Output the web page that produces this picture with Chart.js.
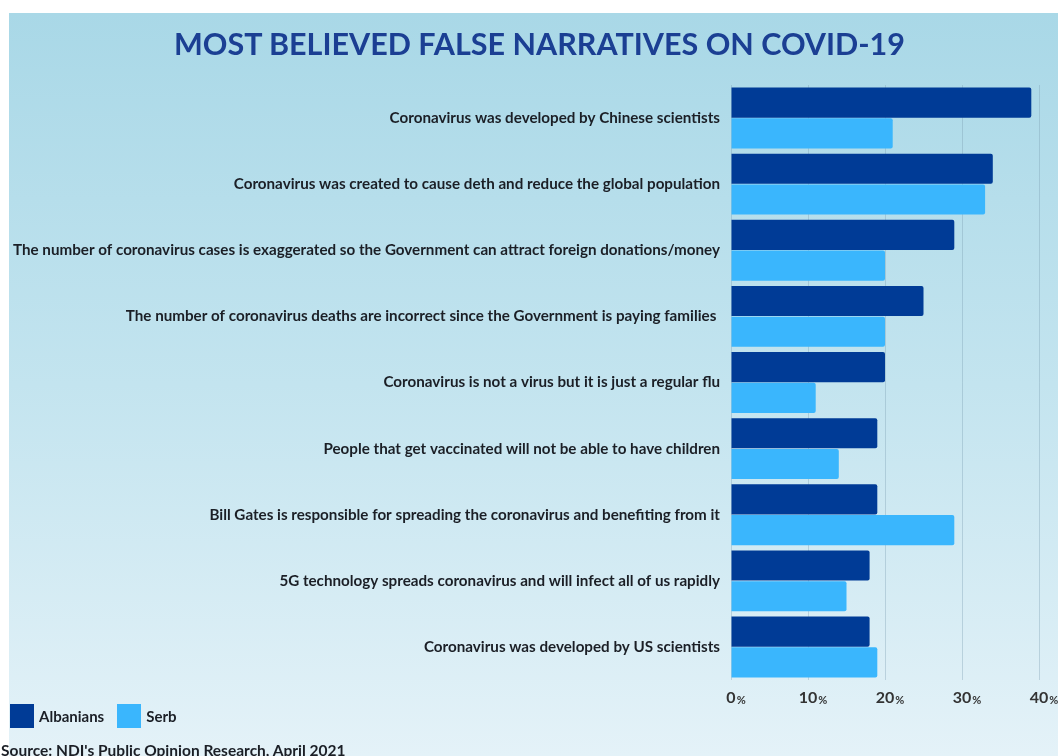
<!DOCTYPE html>
<html>
<head>
<meta charset="utf-8">
<script src="https://cdn.jsdelivr.net/npm/chart.js@4.4.1/dist/chart.umd.min.js"></script>
<style>
  html, body { margin: 0; padding: 0; background: #ffffff; }
  #wrap { position: relative; width: 1058px; height: 756px; overflow: hidden; }
  #title { position: absolute; left: 0; top: 25px; width: 1079px; text-align: center;
           font: bold 30.5px Lato, sans-serif; color: #1b3f93; white-space: nowrap; }
  #legend { position: absolute; left: 10px; top: 704px; display: flex; align-items: center;
            font: bold 15px Lato, sans-serif; color: #1b1f26; }
  #legend .item { display: flex; align-items: center; margin-right: 13px; }
  #legend .box { width: 24px; height: 24px; margin-right: 5px; }
  #source { position: absolute; left: 1px; top: 741px; font: bold 15.5px Lato, sans-serif; color: #1b1f26; white-space: nowrap; }
</style>
</head>
<body>
<div id="wrap">
  <canvas id="chart" width="1058" height="756"></canvas>
  <div id="title">MOST BELIEVED FALSE NARRATIVES ON COVID-19</div>
  <div id="legend"></div>
  <div id="source">Source: NDI's Public Opinion Research, April 2021</div>
</div>
<script>
"use strict";

const categorias = [
  "Coronavirus was developed by Chinese scientists",
  "Coronavirus was created to cause deth and reduce the global population",
  "The number of coronavirus cases is exaggerated so the Government can attract foreign donations/money",
  "The number of coronavirus deaths are incorrect since the Government is paying families ",
  "Coronavirus is not a virus but it is just a regular flu",
  "People that get vaccinated will not be able to have children",
  "Bill Gates is responsible for spreading the coronavirus and benefiting from it",
  "5G technology spreads coronavirus and will infect all of us rapidly",
  "Coronavirus was developed by US scientists",
];
const albanians = [39, 34, 29, 25, 20, 19, 19, 18, 18];
const serb = [21, 33, 20, 20, 11, 14, 29, 15, 19];
const ticksX = [0, 10, 20, 30, 40];

const colorAlb = "#003b96";
const colorSerb = "#3ab6fd";

// fondo con degradado (deja la franja blanca arriba e izquierda)
const fondo = {
  id: "fondo",
  beforeDraw(chart) {
    const ctx = chart.ctx;
    const g = ctx.createLinearGradient(0, 13, 0, 756);
    g.addColorStop(0, "#a9d8e7");
    g.addColorStop(0.5, "#c3e4ef");
    g.addColorStop(1, "#e4f2f8");
    ctx.save();
    ctx.fillStyle = g;
    ctx.fillRect(9, 13, chart.width - 9, chart.height - 13);
    ctx.restore();
  },
};

// etiquetas del eje x: numero grande + "%" chico
const etiquetasX = {
  id: "etiquetasX",
  afterDraw(chart) {
    const ctx = chart.ctx;
    const sx = chart.scales.x;
    const y = chart.chartArea.bottom + 18;
    ctx.save();
    ctx.textBaseline = "middle";
    ctx.fillStyle = "#333333";
    sx.ticks.forEach((t) => {
      const x = sx.getPixelForValue(t.value);
      const num = String(t.value);
      ctx.font = "bold 16px Lato, sans-serif";
      const w = ctx.measureText(num).width;
      ctx.textAlign = "left";
      ctx.fillText(num, x - w / 2, y);
      ctx.font = "bold 11px Lato, sans-serif";
      ctx.fillText("%", x + w / 2 + 1, y + 2);
    });
    ctx.restore();
  },
};

const chart = new Chart(document.getElementById("chart"), {
  type: "bar",
  data: {
    labels: categorias,
    datasets: [
      { label: "Albanians", data: albanians, backgroundColor: colorAlb, borderRadius: 2,
        categoryPercentage: 0.93, barPercentage: 0.98 },
      { label: "Serb", data: serb, backgroundColor: colorSerb, borderRadius: 2,
        categoryPercentage: 0.93, barPercentage: 0.98 },
    ],
  },
  options: {
    indexAxis: "y",
    responsive: false,
    animation: false,
    layout: { padding: { left: 0, right: 19, top: 85, bottom: 46 } },
    plugins: {
      legend: { display: false },
      tooltip: { enabled: false },
    },
    scales: {
      x: {
        min: 0,
        max: 40,
        afterBuildTicks(scale) {
          scale.ticks = ticksX.map((v) => ({ value: v }));
        },
        afterFit(scale) { scale.height = 30; },
        border: { display: false },
        grid: { color: "rgba(120,155,175,0.35)", drawTicks: false },
        ticks: { color: "transparent", font: { size: 15 } },
      },
      y: {
        afterFit(scale) { scale.width = 731; },
        border: { display: false },
        grid: { display: false, drawTicks: false },
        ticks: {
          padding: 11,
          color: "#1b1f26",
          font: { family: "Lato", size: 15.2, weight: "bold" },
        },
      },
    },
  },
  plugins: [fondo, etiquetasX],
});

// leyenda en HTML a partir de los datasets
const leyenda = document.getElementById("legend");
chart.data.datasets.forEach((ds) => {
  const item = document.createElement("div");
  item.className = "item";
  item.innerHTML = '<div class="box" style="background:' + ds.backgroundColor + '"></div><span>' + ds.label + "</span>";
  leyenda.appendChild(item);
});
</script>
</body>
</html>
